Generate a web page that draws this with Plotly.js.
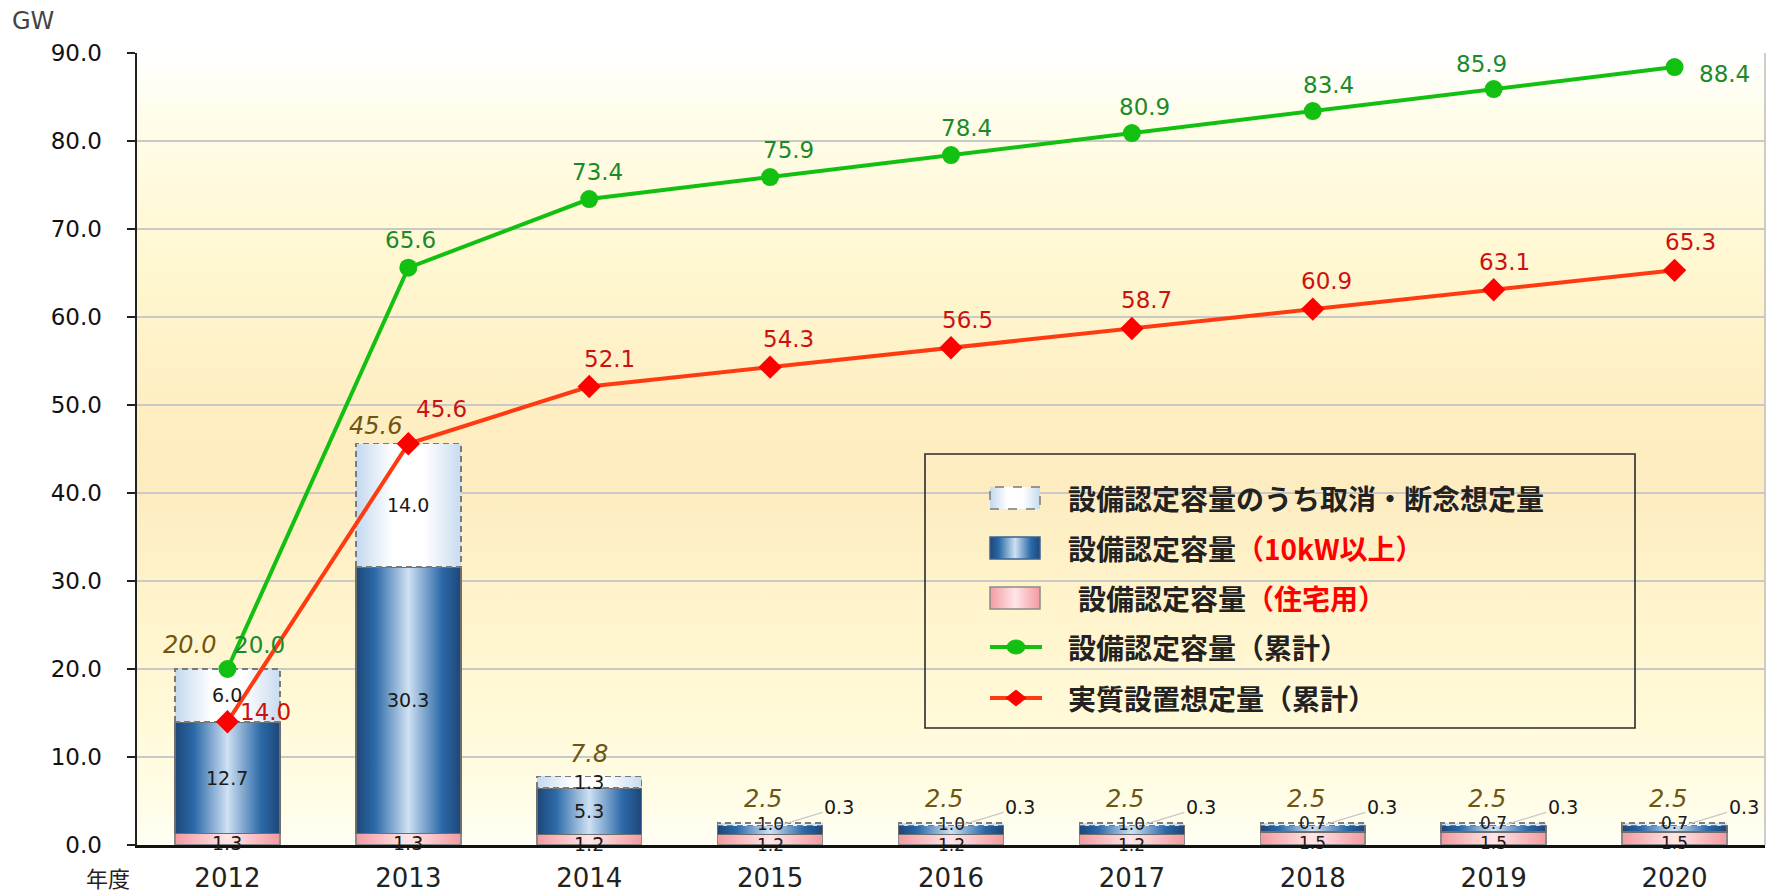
<!DOCTYPE html>
<html>
<head>
<meta charset="utf-8">
<script src="https://cdn.plot.ly/plotly-3.0.1.min.js"></script>
<style>
  html, body { margin: 0; padding: 0; background: #ffffff; }
  #chart { width: 1768px; height: 893px; }
</style>
</head>
<body>
<div id="chart"></div>
<script>
// Fiscal years
const years = ['2012', '2013', '2014', '2015', '2016', '2017', '2018', '2019', '2020'];

// Yearly certified capacity (GW), stacked
const residential    = [1.3, 1.3, 1.2, 1.2, 1.2, 1.2, 1.5, 1.5, 1.5];   // 住宅用
const nonResidential = [12.7, 30.3, 5.3, 1.0, 1.0, 1.0, 0.7, 0.7, 0.7]; // 10kW以上
const cancelled      = [6.0, 14.0, 1.3, 0.3, 0.3, 0.3, 0.3, 0.3, 0.3];  // 取消・断念想定量
const yearTotal      = [20.0, 45.6, 7.8, 2.5, 2.5, 2.5, 2.5, 2.5, 2.5];

// Cumulative lines (GW)
const certifiedCum = [20.0, 65.6, 73.4, 75.9, 78.4, 80.9, 83.4, 85.9, 88.4];
const installedCum = [14.0, 45.6, 52.1, 54.3, 56.5, 58.7, 60.9, 63.1, 65.3];

// Legend / series names
const nameCancelled = '設備認定容量のうち取消・断念想定量';
const nameNonRes    = '設備認定容量<span style="color:#ff0000">（10kW以上）</span>';
const nameRes       = '設備認定容量<span style="color:#ff0000">（住宅用）</span>';
const nameCertCum   = '設備認定容量（累計）';
const nameInstCum   = '実質設置想定量（累計）';

const yTicks = [0, 10, 20, 30, 40, 50, 60, 70, 80, 90];

// positions of the fiscal years along the x axis
const xPos = years.map((_, i) => i);

// ---- plot geometry (pixels) ----
const W = 1768, H = 893;
const M = { l: 137, r: 3, t: 53, b: 48 };
const PW = W - M.l - M.r, PH = H - M.t - M.b;
const px = v => (v - M.l) / PW;        // page x -> paper x
const py = v => (H - M.b - v) / PH;    // page y -> paper y

const numFont = 'DejaVu Sans, Verdana, sans-serif';
const jpFont = 'Noto Sans CJK JP, Noto Sans, sans-serif';

const barWidth = 0.58;

const traces = [
  {
    type: 'bar', name: nameRes, x: xPos, y: residential, width: barWidth,
    marker: { color: '#f7b3b8', line: { color: '#8a8a8a', width: 1.5 } },
    hoverinfo: 'y'
  },
  {
    type: 'bar', name: nameNonRes, x: xPos, y: nonResidential, width: barWidth,
    marker: { color: '#2e6aa8', line: { color: '#6d6d6d', width: 1.5 } },
    hoverinfo: 'y'
  },
  {
    type: 'bar', name: nameCancelled, x: xPos, y: cancelled, width: barWidth,
    marker: { color: '#eef4fb', line: { color: '#7a7a7a', width: 1.5 } },
    hoverinfo: 'y'
  },
  {
    type: 'scatter', mode: 'lines+markers', name: nameCertCum, x: xPos, y: certifiedCum,
    line: { color: '#12c012', width: 4 },
    marker: { symbol: 'circle', size: 18, color: '#12c012' },
    hoverinfo: 'y'
  },
  {
    type: 'scatter', mode: 'lines+markers', name: nameInstCum, x: xPos, y: installedCum,
    line: { color: '#ff3a10', width: 4 },
    marker: { symbol: 'diamond', size: 18, color: '#ff0000' },
    hoverinfo: 'y'
  }
];

// ---- value labels ----
const annotations = [];
const segFont = { family: numFont, size: 19, color: '#1a1a1a' };
const smallSegFont = { family: numFont, size: 17, color: '#1a1a1a' };

// label offsets (pixels) for the cumulative lines and yearly totals
const greenDx = [32, 2, 8, 18, 15, 13, 16, -12, 50];
const greenDy = [24, 28, 27, 27, 27, 26, 26, 25, -7];
const redDx   = [38, 33, 20, 18, 16, 15, 14, 11, 16];
const redDy   = [10, 35, 28, 28, 28, 28, 28, 28, 28];
const totalDx = [-38, -33, 0, -7, -7, -7, -7, -7, -7];
const totalDy = [24, 18, 22, 24, 24, 24, 24, 24, 24];

function label(x, y, text, font, extra) {
  return Object.assign({ xref: 'x', yref: 'y', x: x, y: y, text: text, font: font,
    showarrow: false }, extra || {});
}

xPos.forEach(i => {
  const r = residential[i], n = nonResidential[i], c = cancelled[i];
  const thin = n < 2;   // short stack: labels sit on the bar edges
  // residential segment
  annotations.push(label(i, r / 2, r.toFixed(1), thin ? smallSegFont : segFont,
    { yshift: thin ? -5 : -4 }));
  // 10kW+ segment
  annotations.push(label(i, r + n / 2, n.toFixed(1), thin ? smallSegFont : segFont,
    { yshift: thin ? 6 : 0 }));
  // cancelled segment: inside when tall enough, else with a leader line
  if (c >= 1) {
    annotations.push(label(i, r + n + c / 2, c.toFixed(1), segFont));
  } else {
    annotations.push(label(i, r + n + c / 2, c.toFixed(1), segFont, {
      showarrow: true, xshift: 13, ax: 56, ay: -17, arrowhead: 0, arrowwidth: 1.2,
      arrowcolor: '#c8c8c8', standoff: 0 }));
  }
  // yearly total
  annotations.push(label(i, yearTotal[i], yearTotal[i].toFixed(1),
    { family: numFont, size: 24, color: '#6e5612', style: 'italic' },
    { xshift: totalDx[i], yshift: totalDy[i] }));
  // cumulative labels
  annotations.push(label(i, certifiedCum[i], certifiedCum[i].toFixed(1),
    { family: numFont, size: 23, color: '#1b8a2a' },
    { xshift: greenDx[i], yshift: greenDy[i] }));
  annotations.push(label(i, installedCum[i], installedCum[i].toFixed(1),
    { family: numFont, size: 23, color: '#cc1111' },
    { xshift: redDx[i], yshift: redDy[i] }));
});

// axis captions
annotations.push({ xref: 'paper', yref: 'paper', x: px(10), y: py(21), xanchor: 'left', yanchor: 'middle',
  text: 'GW', showarrow: false, font: { family: numFont, size: 24, color: '#444' } });
annotations.push({ xref: 'paper', yref: 'paper', x: px(84), y: py(877), xanchor: 'left', yanchor: 'middle',
  text: '年度', showarrow: false, font: { family: jpFont, size: 22, color: '#222' } });

// ---- legend (drawn box) ----
const legendRows = [498, 548, 598, 647, 698];
const legendNames = [nameCancelled, nameNonRes, nameRes, nameCertCum, nameInstCum];
const swL = 990, swR = 1040, swH = 22, textL = 1066;
const shapes = [];

// legend frame
shapes.push({ type: 'rect', xref: 'paper', yref: 'paper',
  x0: px(925), x1: px(1635), y0: py(728), y1: py(454),
  line: { color: '#2b2b2b', width: 1.6 }, fillcolor: 'rgba(0,0,0,0)' });
// right frame of plot area
shapes.push({ type: 'line', xref: 'paper', yref: 'paper', x0: 1, x1: 1, y0: 0, y1: 1,
  line: { color: '#bdbdbd', width: 1.5 } });

// bar swatches: cancelled, 10kW+, residential
const swatchLine = ['#7a7a7a', '#3a6391', '#8a8a8a'];
const swatchFill = ['#eef4fb', '#2e6aa8', '#f7b3b8'];
for (let k = 0; k < 3; k++) {
  shapes.push({ type: 'rect', xref: 'paper', yref: 'paper',
    x0: px(swL), x1: px(swR), y0: py(legendRows[k] + swH / 2), y1: py(legendRows[k] - swH / 2),
    line: { color: swatchLine[k], width: 1.5, dash: k === 0 ? 'dash' : 'solid' },
    fillcolor: swatchFill[k] });
}
// line swatches
const lineCols = ['#12c012', '#ff3a10'];
for (let k = 0; k < 2; k++) {
  const yy = legendRows[3 + k];
  shapes.push({ type: 'line', xref: 'paper', yref: 'paper',
    x0: px(swL), x1: px(swR + 2), y0: py(yy), y1: py(yy),
    line: { color: lineCols[k], width: 4 } });
}
// circle marker for cumulative certified
shapes.push({ type: 'circle', xref: 'paper', yref: 'paper',
  x0: px(1016 - 9), x1: px(1016 + 9), y0: py(legendRows[3] + 7), y1: py(legendRows[3] - 7),
  line: { color: '#12c012', width: 1 }, fillcolor: '#12c012' });
// diamond marker for cumulative installed
{
  const cx = 1016, cy = legendRows[4];
  shapes.push({ type: 'path', xref: 'paper', yref: 'paper',
    path: `M${px(cx - 10)},${py(cy)} L${px(cx)},${py(cy - 8)} L${px(cx + 10)},${py(cy)} L${px(cx)},${py(cy + 8)} Z`,
    line: { color: '#ff0000', width: 1 }, fillcolor: '#ff0000' });
}
legendNames.forEach((nm, k) => {
  annotations.push({ xref: 'paper', yref: 'paper', x: px(textL + (k === 2 ? 10 : 0)), y: py(legendRows[k]),
    xanchor: 'left', yanchor: 'middle', showarrow: false, text: '<b>' + nm + '</b>',
    font: { family: jpFont, size: 28, color: '#222' } });
});

const layout = {
  width: W, height: H,
  margin: M,
  paper_bgcolor: '#ffffff',
  plot_bgcolor: '#fff8d8',
  barmode: 'stack',
  showlegend: false,
  xaxis: {
    type: 'linear', range: [-0.5, 8.5], fixedrange: true,
    tickvals: xPos, ticktext: years,
    showline: true, linecolor: '#111', linewidth: 2.5,
    ticks: '', showgrid: false, zeroline: false,
    tickfont: { family: numFont, size: 26, color: '#222' },
    ticklabelstandoff: 8
  },
  yaxis: {
    range: [0, 90], tickvals: yTicks, tickformat: '.1f', fixedrange: true,
    showline: true, linecolor: '#222', linewidth: 2.5,
    ticks: 'outside', ticklen: 8, tickwidth: 2, tickcolor: '#222',
    showgrid: true, gridcolor: '#c9c9c9', gridwidth: 1.3, zeroline: false,
    tickfont: { family: numFont, size: 23, color: '#111' },
    ticklabelstandoff: 20
  },
  annotations: annotations,
  shapes: shapes
};

const SVGNS = 'http://www.w3.org/2000/svg';
function addGradient(defs, id, stops, vertical) {
  const g = document.createElementNS(SVGNS, 'linearGradient');
  g.setAttribute('id', id);
  g.setAttribute('x1', '0'); g.setAttribute('y1', '0');
  g.setAttribute('x2', vertical ? '0' : '1'); g.setAttribute('y2', vertical ? '1' : '0');
  stops.forEach(([off, col]) => {
    const s = document.createElementNS(SVGNS, 'stop');
    s.setAttribute('offset', off);
    s.setAttribute('stop-color', col);
    g.appendChild(s);
  });
  defs.appendChild(g);
}

const gd = document.getElementById('chart');
Plotly.newPlot(gd, traces, layout, { staticPlot: true, displayModeBar: false }).then(() => {
  const svg = gd.querySelector('.main-svg');
  const defs = document.createElementNS(SVGNS, 'defs');
  svg.insertBefore(defs, svg.firstChild);
  addGradient(defs, 'gPink', [[0, '#f39aa0'], [0.5, '#ffe6e8'], [1, '#f39aa0']]);
  addGradient(defs, 'gBlue', [[0, '#1d4677'], [0.18, '#2b69a8'], [0.5, '#cfe1f3'], [0.82, '#2b69a8'], [1, '#1d4677']]);
  addGradient(defs, 'gDash', [[0, '#c3d8ef'], [0.35, '#ffffff'], [0.65, '#ffffff'], [1, '#c8dbf0']]);
  addGradient(defs, 'gBg', [[0, '#ffffff'], [0.08, '#fffdea'], [0.25, '#fff8d2'], [0.45, '#feeec2'],
    [0.55, '#fdecc0'], [0.7, '#fff4cc'], [0.85, '#fffad9'], [0.96, '#fffdea'], [1, '#fffff4']], true);

  const bg = svg.querySelector('rect.bg');
  if (bg) bg.style.fill = 'url(#gBg)';

  const grads = ['url(#gPink)', 'url(#gBlue)', 'url(#gDash)'];
  svg.querySelectorAll('.barlayer .trace').forEach((tr, k) => {
    tr.querySelectorAll('path').forEach(p => {
      p.style.fill = grads[k];
      if (k === 2) p.style.strokeDasharray = '6,4';
    });
  });

  // legend swatches (shapes 2..4)
  const swGrads = ['url(#gDash)', 'url(#gBlue)', 'url(#gPink)'];
  for (let k = 0; k < 3; k++) {
    const p = gd.querySelector('.shapelayer path[data-index="' + (2 + k) + '"]');
    if (p) p.style.fill = swGrads[k];
  }
});
</script>
</body>
</html>
